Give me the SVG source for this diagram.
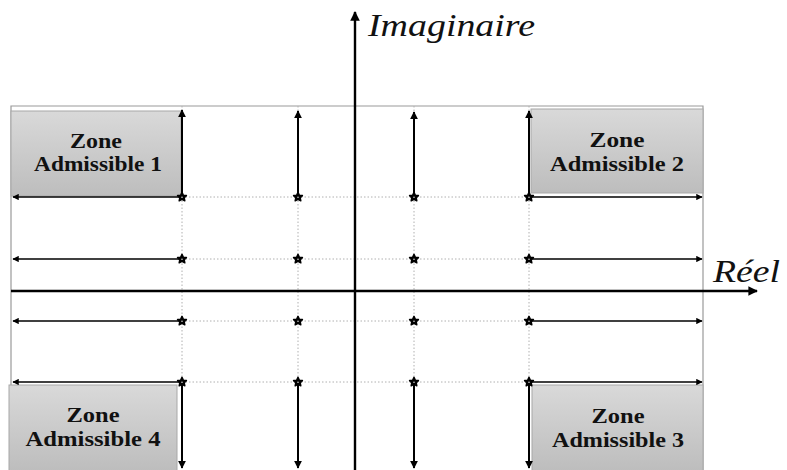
<svg xmlns="http://www.w3.org/2000/svg" width="787" height="470" viewBox="0 0 787 470">
<style>
.frame{fill:none;stroke:#9a9a9a;stroke-width:1.2}
.grid{stroke:#b0b0b0;stroke-width:1;stroke-dasharray:1.5 2;fill:none}
.zone{fill:url(#zg);stroke:#a8a8a8;stroke-width:1}
.zt{font-family:"Liberation Serif","Times New Roman",serif;font-weight:bold;font-size:20px;fill:#111;text-anchor:middle}
.axis{stroke:#000;stroke-width:2.4;fill:none}
.va{stroke:#000;stroke-width:2;fill:none;marker-end:url(#ah)}
.ha{stroke:#000;stroke-width:1.6;fill:none;marker-end:url(#ah)}
.ax{font-family:"Liberation Serif","Times New Roman",serif;font-style:italic;font-size:31px;fill:#111}
.star{fill:#000;stroke:#000;stroke-width:1.5;stroke-linejoin:round}
.sc{fill:#fff}
</style>
<defs>
<linearGradient id="zg" x1="0" y1="0" x2="0" y2="1">
<stop offset="0" stop-color="#d9d9d9"/>
<stop offset="1" stop-color="#bdbdbd"/>
</linearGradient>
<marker id="ah" viewBox="0 0 10 10" refX="9" refY="5" markerWidth="4" markerHeight="4" orient="auto" markerUnits="strokeWidth">
<path d="M0,0 L10,5 L0,10 z" fill="#000"/>
</marker>
<marker id="axh" viewBox="0 0 10 10" refX="9" refY="5" markerWidth="4" markerHeight="4" orient="auto" markerUnits="strokeWidth">
<path d="M0,0 L10,5 L0,10 z" fill="#000"/>
</marker>
<g id="st">
<path class="star" d="M0,-4.6 L1.4,-1.7 L4.4,-1.4 L2.2,0.7 L2.8,3.8 L0,2.3 L-2.8,3.8 L-2.2,0.7 L-4.4,-1.4 L-1.4,-1.7 Z"/>
<circle class="sc" cx="0" cy="0.3" r="0.7"/>
</g>
</defs>

<g id="frame">
<path class="frame" d="M11,470 V106 H703 V470"/>
</g>

<g id="grid">
<line class="grid" x1="182" y1="106" x2="182" y2="470"/>
<line class="grid" x1="298" y1="106" x2="298" y2="470"/>
<line class="grid" x1="414" y1="106" x2="414" y2="470"/>
<line class="grid" x1="529" y1="106" x2="529" y2="470"/>
<line class="grid" x1="182" y1="197" x2="529" y2="197"/>
<line class="grid" x1="182" y1="259" x2="529" y2="259"/>
<line class="grid" x1="182" y1="321" x2="529" y2="321"/>
<line class="grid" x1="182" y1="382" x2="529" y2="382"/>
</g>

<g id="zone1">
<rect class="zone" x="11" y="111" width="170" height="85"/>
<text class="zt" x="96" y="148" textLength="52" lengthAdjust="spacingAndGlyphs">Zone</text>
<text class="zt" x="98" y="171" textLength="128" lengthAdjust="spacingAndGlyphs">Admissible 1</text>
</g>
<g id="zone2">
<rect class="zone" x="531" y="109" width="172" height="84"/>
<text class="zt" x="617" y="147" textLength="55" lengthAdjust="spacingAndGlyphs">Zone</text>
<text class="zt" x="617" y="171" textLength="134" lengthAdjust="spacingAndGlyphs">Admissible 2</text>
</g>
<g id="zone4">
<rect class="zone" x="9" y="385" width="168" height="86"/>
<text class="zt" x="93" y="422" textLength="53" lengthAdjust="spacingAndGlyphs">Zone</text>
<text class="zt" x="93" y="446" textLength="135" lengthAdjust="spacingAndGlyphs">Admissible 4</text>
</g>
<g id="zone3">
<rect class="zone" x="532" y="385" width="171" height="86"/>
<text class="zt" x="618" y="423" textLength="53" lengthAdjust="spacingAndGlyphs">Zone</text>
<text class="zt" x="618" y="447" textLength="132" lengthAdjust="spacingAndGlyphs">Admissible 3</text>
</g>

<g id="connectors">
<line class="va" x1="182" y1="197" x2="182" y2="110"/>
<line class="va" x1="298" y1="197" x2="298" y2="111"/>
<line class="va" x1="414" y1="197" x2="414" y2="112"/>
<line class="va" x1="529" y1="197" x2="529" y2="111"/>
<line class="va" x1="182" y1="382" x2="182" y2="468"/>
<line class="va" x1="298" y1="382" x2="298" y2="468"/>
<line class="va" x1="414" y1="382" x2="414" y2="468"/>
<line class="va" x1="529" y1="382" x2="529" y2="468"/>
<line class="ha" x1="182" y1="197" x2="13" y2="197"/>
<line class="ha" x1="182" y1="259" x2="13" y2="259"/>
<line class="ha" x1="182" y1="321" x2="13" y2="321"/>
<line class="ha" x1="182" y1="382" x2="13" y2="382"/>
<line class="ha" x1="529" y1="197" x2="702" y2="197"/>
<line class="ha" x1="529" y1="259" x2="702" y2="259"/>
<line class="ha" x1="529" y1="321" x2="702" y2="321"/>
<line class="ha" x1="529" y1="382" x2="702" y2="382"/>
<line class="axis" x1="11" y1="291" x2="757" y2="291" marker-end="url(#axh)"/>
<line class="axis" x1="355" y1="470" x2="355" y2="12" marker-end="url(#axh)"/>
</g>

<g id="stars">
<use href="#st" x="182" y="197"/><use href="#st" x="298" y="197"/><use href="#st" x="414" y="197"/><use href="#st" x="529" y="197"/>
<use href="#st" x="182" y="259"/><use href="#st" x="298" y="259"/><use href="#st" x="414" y="259"/><use href="#st" x="529" y="259"/>
<use href="#st" x="182" y="321"/><use href="#st" x="298" y="321"/><use href="#st" x="414" y="321"/><use href="#st" x="529" y="321"/>
<use href="#st" x="182" y="382"/><use href="#st" x="298" y="382"/><use href="#st" x="414" y="382"/><use href="#st" x="529" y="382"/>
</g>

<g id="labels">
<text class="ax" x="368" y="36" textLength="167" lengthAdjust="spacingAndGlyphs">Imaginaire</text>
<text class="ax" x="713" y="282" textLength="67" lengthAdjust="spacingAndGlyphs">Réel</text>
</g>
</svg>
